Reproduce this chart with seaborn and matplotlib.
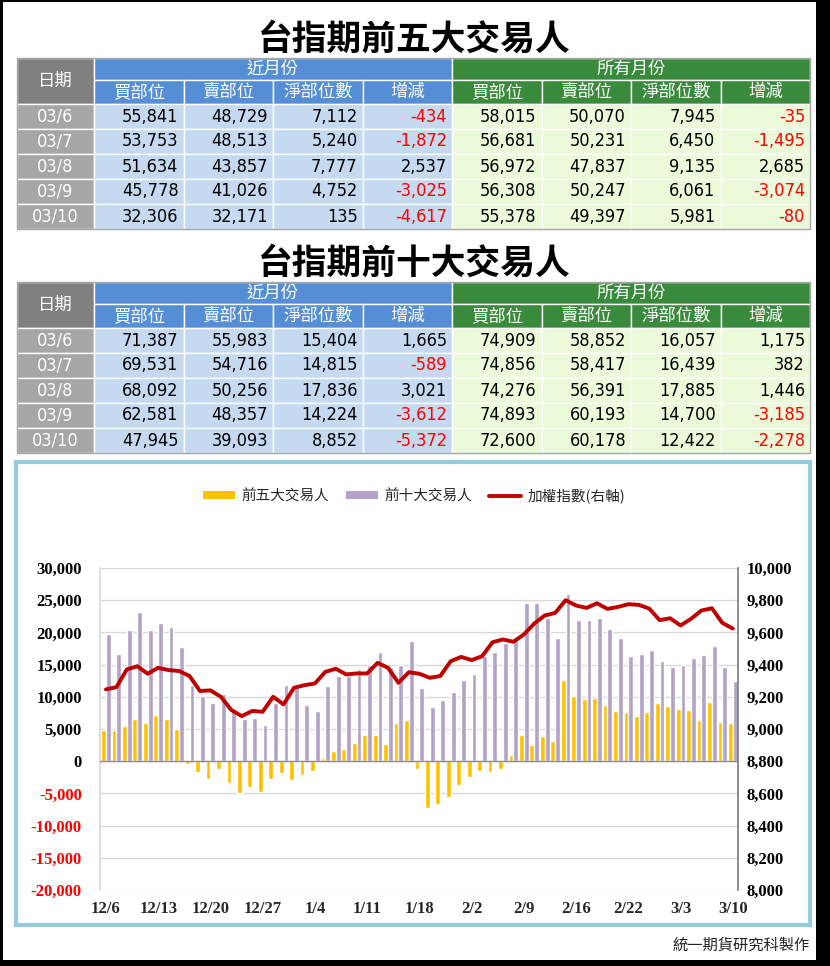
import numpy as np
import pandas as pd
import seaborn as sns
import matplotlib.pyplot as plt
import matplotlib.font_manager as fm
from matplotlib.patches import Rectangle, Patch
from matplotlib.lines import Line2D

# ---- table data ----
dates = ['03/6', '03/7', '03/8', '03/9', '03/10']

top5_near_buy = [55841, 53753, 51634, 45778, 32306]
top5_near_sell = [48729, 48513, 43857, 41026, 32171]
top5_near_net = [7112, 5240, 7777, 4752, 135]
top5_near_chg = [-434, -1872, 2537, -3025, -4617]
top5_all_buy = [58015, 56681, 56972, 56308, 55378]
top5_all_sell = [50070, 50231, 47837, 50247, 49397]
top5_all_net = [7945, 6450, 9135, 6061, 5981]
top5_all_chg = [-35, -1495, 2685, -3074, -80]

top10_near_buy = [71387, 69531, 68092, 62581, 47945]
top10_near_sell = [55983, 54716, 50256, 48357, 39093]
top10_near_net = [15404, 14815, 17836, 14224, 8852]
top10_near_chg = [1665, -589, 3021, -3612, -5372]
top10_all_buy = [74909, 74856, 74276, 74893, 72600]
top10_all_sell = [58852, 58417, 56391, 60193, 60178]
top10_all_net = [16057, 16439, 17885, 14700, 12422]
top10_all_chg = [1175, 382, 1446, -3185, -2278]

sub_headers = ['買部位', '賣部位', '淨部位數', '增減']

# ---- chart data (61 trading days) ----
top5_net = [4860, 4860, 5500, 6500, 5900, 7200, 6500, 5000, -400, -1650,
            -2700, -1200, -3400, -4900, -4000, -4750, -2700, -1800, -2900, -2100,
            -1500, 460, 1550, 1860, 2900, 4000, 4000, 2600, 6000, 6350,
            -1200, -7200, -6600, -5500, -3700, -2400, -1500, -1650, -1200, 930,
            4000, 2500, 3900, 3100, 12550, 10200, 9600, 9750, 8700, 7750,
            7600, 7000, 7600, 9000, 8500, 8100, 7945, 6450, 9135, 6061, 5981]
top10_net = [19700, 16600, 20300, 23100, 20450, 21400, 20800, 17800, 11900, 10200,
             9000, 10500, 7800, 6500, 6700, 5600, 9000, 11800, 11900, 8800,
             7750, 11600, 13300, 13300, 14300, 14900, 16900, 14700, 14900, 18600,
             11300, 8400, 9450, 10700, 12550, 13500, 16400, 16900, 18300, 19200,
             24500, 24500, 22200, 19200, 26000, 21850, 22000, 22300, 20600, 19100,
             16400, 16700, 17200, 15500, 14600, 14900, 16057, 16439, 17885, 14700, 12422]
taiex = [9246, 9260, 9370, 9390, 9343, 9380, 9366, 9360, 9329, 9236,
         9240, 9200, 9118, 9080, 9112, 9107, 9200, 9153, 9256, 9272,
         9283, 9355, 9374, 9339, 9345, 9345, 9411, 9380, 9287, 9353,
         9343, 9318, 9329, 9421, 9448, 9428, 9452, 9539, 9556, 9542,
         9587, 9655, 9705, 9721, 9800, 9767, 9752, 9781, 9746, 9758,
         9775, 9771, 9748, 9676, 9688, 9643, 9684, 9736, 9750, 9659, 9624]
x_labels = ['12/6', '12/13', '12/20', '12/27', '1/4', '1/11', '1/18',
            '2/2', '2/9', '2/16', '2/22', '3/3', '3/10']

CJK = 'Noto Sans CJK TC'
sns.set_theme(style='white')
plt.rcParams['font.family'] = [CJK, 'DejaVu Sans']

# narrow font for the table numbers if one is installed
NUM_FONT, NUM_STRETCH, NUM_SIZE = 'Liberation Sans', 'normal', 13
names = {f.name for f in fm.fontManager.ttflist}
condensed = {f.name for f in fm.fontManager.ttflist
             if f.stretch in ('condensed', 'semi-condensed') and f.style == 'normal'}
if 'Liberation Sans Narrow' in names:
    NUM_FONT, NUM_SIZE = 'Liberation Sans Narrow', 14.5
elif 'DejaVu Sans' in condensed:
    NUM_FONT, NUM_STRETCH, NUM_SIZE = 'DejaVu Sans', 'condensed', 13

BLUE_H, BLUE_L = '#558ED5', '#C5D9F1'
GREEN_H, GREEN_L = '#3A8A3C', '#EBFAD8'
GRAY_H, GRAY_L = '#808080', '#A6A6A6'
TICK_FONT = dict(family='Liberation Serif', weight='bold', size=12)

fig = plt.figure(figsize=(8.3, 9.66), dpi=100)
bg = fig.add_axes([0, 0, 1, 1])
bg.set_xlim(0, 830)
bg.set_ylim(966, 0)
bg.axis('off')


def cell(x, y, w, h, color):
    bg.add_patch(Rectangle((x, y), w, h, facecolor=color, edgecolor='white', lw=1))


X0, DATE_W, X_END = 17, 77, 810
COL_W = (X_END - X0 - DATE_W) / 8
col_left = [X0 + DATE_W + i * COL_W for i in range(8)]


def draw_table(top, title, cols):
    bg.text(414, top - 19, title, ha='center', va='center', fontsize=25,
            fontweight='bold', color='black')
    h1, h2, rh = 22, 24, 25
    cell(X0, top, DATE_W, h1 + h2, GRAY_H)
    bg.text(X0 + DATE_W / 2, top + (h1 + h2) / 2, '日期', ha='center', va='center',
            color='white', fontsize=12.5)
    cell(col_left[0], top, 4 * COL_W, h1, BLUE_H)
    bg.text(col_left[0] + 2 * COL_W, top + h1 / 2, '近月份', ha='center', va='center',
            color='white', fontsize=12.5)
    cell(col_left[4], top, 4 * COL_W, h1, GREEN_H)
    bg.text(col_left[4] + 2 * COL_W, top + h1 / 2, '所有月份', ha='center', va='center',
            color='white', fontsize=12.5)
    for i, name in enumerate(sub_headers * 2):
        cell(col_left[i], top + h1, COL_W, h2, BLUE_H if i < 4 else GREEN_H)
        bg.text(col_left[i] + COL_W / 2, top + h1 + h2 / 2, name, ha='center',
                va='center', color='white', fontsize=12.5)
    for r, d in enumerate(dates):
        y = top + h1 + h2 + r * rh
        cell(X0, y, DATE_W, rh, GRAY_L)
        bg.text(X0 + DATE_W / 2, y + rh / 2, d, ha='center', va='center',
                color='white', fontsize=NUM_SIZE, family=NUM_FONT, stretch=NUM_STRETCH)
        for c, col in enumerate(cols):
            v = col[r]
            cell(col_left[c], y, COL_W, rh, BLUE_L if c < 4 else GREEN_L)
            red = c in (3, 7) and v < 0
            bg.text(col_left[c] + COL_W - 5, y + rh / 2, f'{v:,}', ha='right',
                    va='center', color='#FF0000' if red else 'black',
                    fontsize=NUM_SIZE, family=NUM_FONT, stretch=NUM_STRETCH)
    total_h = h1 + h2 + 5 * rh
    bg.add_patch(Rectangle((X0, top), X_END - X0, total_h, facecolor='none',
                           edgecolor='#A6A6A6', lw=1))


draw_table(58, '台指期前五大交易人',
           [top5_near_buy, top5_near_sell, top5_near_net, top5_near_chg,
            top5_all_buy, top5_all_sell, top5_all_net, top5_all_chg])
draw_table(282, '台指期前十大交易人',
           [top10_near_buy, top10_near_sell, top10_near_net, top10_near_chg,
            top10_all_buy, top10_all_sell, top10_all_net, top10_all_chg])

# chart frame and outer black frame
bg.add_patch(Rectangle((16, 462), 794, 463, facecolor='white', edgecolor='#93CDDD', lw=3))
for rect in [(0, 0, 3, 966), (0, 0, 830, 2), (816, 0, 14, 966), (0, 960, 830, 6)]:
    bg.add_patch(Rectangle(rect[:2], rect[2], rect[3], facecolor='black', edgecolor='none'))
bg.text(810, 945, '統一期貨研究科製作', ha='right', va='center', fontsize=11, color='#222222')

# ---- combo chart ----
days = list(range(len(top5_net)))
df = pd.DataFrame({
    'day': days * 2,
    'value': top5_net + top10_net,
    'series': ['前五大交易人'] * len(days) + ['前十大交易人'] * len(days),
})

ax = fig.add_axes([100 / 830, 1 - 890 / 966, 638 / 830, 322 / 966])
ax.set_facecolor('none')
sns.barplot(data=df, x='day', y='value', hue='series',
            palette=['#FFC000', '#B3A2C7'], width=0.92, saturation=1,
            errorbar=None, legend=False, ax=ax)
ax.set_xlim(-0.57, 60.5)
ax.set_ylim(-20000, 30000)
lticks = list(range(-20000, 30001, 5000))
ax.set_yticks(lticks, labels=[f'{t:,}' for t in lticks], fontdict=TICK_FONT)
for t, lab in zip(lticks, ax.get_yticklabels()):
    lab.set_color('#FF0000' if t < 0 else 'black')
ax.set_xticks(days[::5], labels=x_labels, fontdict=TICK_FONT)
ax.tick_params(axis='y', length=0, pad=13)
ax.tick_params(axis='x', length=0, pad=8)
ax.set_xlabel('')
ax.set_ylabel('')
ax.grid(axis='y', color='#D9D9D9', lw=1)
ax.set_axisbelow(True)
ax.axhline(0, color='#8C8C8C', lw=1, zorder=3)
for s in ['top', 'bottom', 'right']:
    ax.spines[s].set_visible(False)
ax.spines['left'].set_color('#D9D9D9')

ax2 = ax.twinx()
sns.lineplot(x=days, y=taiex, color='#C00000', lw=2.8, ax=ax2)
ax2.set_ylim(8000, 10000)
rticks = list(range(8000, 10001, 200))
ax2.set_yticks(rticks, labels=[f'{t:,}' for t in rticks], fontdict=TICK_FONT)
ax2.tick_params(axis='y', length=0, pad=6, labelcolor='black')
ax2.set_ylabel('')
for s in ['top', 'bottom', 'left']:
    ax2.spines[s].set_visible(False)
ax2.spines['right'].set_color('#808080')
ax2.grid(False)

handles = [Patch(facecolor='#FFC000', edgecolor='none'),
           Patch(facecolor='#B3A2C7', edgecolor='none'),
           Line2D([0], [0], color='#C00000', lw=2.8)]
fig.legend(handles, ['前五大交易人', '前十大交易人', '加權指數(右軸)'],
           loc='center', bbox_to_anchor=(414 / 830, 1 - 496 / 966), ncol=3,
           frameon=False, fontsize=10.5, handlelength=2.2, handleheight=0.45,
           columnspacing=1.2, handletextpad=0.4)

fig.savefig('out.png', dpi=100)
